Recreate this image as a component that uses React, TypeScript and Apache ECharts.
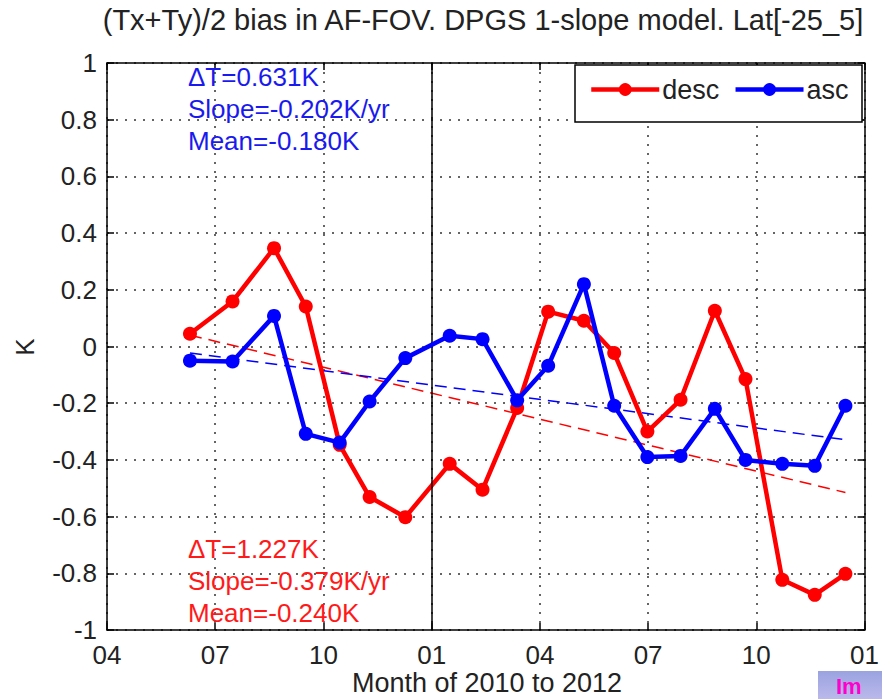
import React, { useEffect, useRef } from "react";
import * as echarts from "echarts";

const titleText = "(Tx+Ty)/2 bias in AF-FOV. DPGS 1-slope model. Lat[-25_5]";
const xTickLabels = ["04", "07", "10", "01", "04", "07", "10", "01"];
const yTicks = [-1, -0.8, -0.6, -0.4, -0.2, 0, 0.2, 0.4, 0.6, 0.8, 1];
const monthPos = [2.3, 3.48, 4.63, 5.51, 6.45, 7.28, 8.27, 9.5, 10.41, 11.37, 12.23, 13.22, 14.06, 14.98, 15.9, 16.85, 17.7, 18.72, 19.62, 20.47];
const descVals = [0.045, 0.159, 0.347, 0.141, -0.347, -0.531, -0.602, -0.414, -0.505, -0.217, 0.123, 0.091, -0.023, -0.3, -0.188, 0.126, -0.115, -0.823, -0.876, -0.802];
const ascVals = [-0.05, -0.053, 0.108, -0.308, -0.339, -0.194, -0.041, 0.038, 0.026, -0.19, -0.068, 0.22, -0.209, -0.39, -0.386, -0.22, -0.4, -0.414, -0.421, -0.209];
const descTrend = [[2.3, 0.04], [20.47, -0.515]];
const ascTrend = [[2.3, -0.023], [20.47, -0.329]];
const ascNotes = ["\u0394T=0.631K", "Slope=-0.202K/yr", "Mean=-0.180K"];
const descNotes = ["\u0394T=1.227K", "Slope=-0.379K/yr", "Mean=-0.240K"];

const FONT = "Liberation Sans, Arial, sans-serif";
const RED = "#ff0000";
const BLUE = "#0000ff";
const INK = "#222222";

export default function App() {
  const ref = useRef<HTMLDivElement>(null);
  useEffect(() => {
    document.body.style.margin = "0";
    const chart = echarts.init(ref.current!, null, { renderer: "svg" });
    const toPairs = (vals: number[]) => vals.map((v, i) => [monthPos[i], v]);
    const axisLine = { show: true, onZero: false, lineStyle: { color: "#000", width: 1.5 } };
    const tick = { show: true, inside: true, length: 7, lineStyle: { color: "#000", width: 1.5 } };
    const split = { show: true, lineStyle: { color: "#333", type: [2, 7] as any, width: 1.5 } };
    const option: any = {
      animation: false,
      backgroundColor: "#fff",
      grid: { left: 107, right: 16, top: 63, bottom: 69 },
      xAxis: [
        {
          type: "value", min: 0, max: 21, interval: 3, position: "bottom",
          axisLine, axisTick: tick, splitLine: split,
          axisLabel: {
            fontFamily: FONT, fontSize: 26, color: INK, margin: 12,
            formatter: (v: number) => xTickLabels[Math.round(v / 3)] ?? "",
          },
        },
        {
          type: "value", min: 0, max: 21, interval: 3, position: "top",
          axisLine, axisTick: tick, splitLine: { show: false }, axisLabel: { show: false },
        },
      ],
      yAxis: [
        {
          type: "value", min: -1, max: 1, interval: 0.2, position: "left",
          axisLine, axisTick: tick, splitLine: split,
          axisLabel: {
            fontFamily: FONT, fontSize: 26, color: INK, margin: 10,
            formatter: (v: number) => {
              const r = Math.round(v * 10) / 10;
              const t = yTicks.find((y) => Math.abs(y - r) < 1e-6);
              return t === undefined ? "" : String(t);
            },
          },
        },
        {
          type: "value", min: -1, max: 1, interval: 0.2, position: "right",
          axisLine, axisTick: tick, splitLine: { show: false }, axisLabel: { show: false },
        },
      ],
      legend: {
        data: ["desc", "asc"],
        left: 584, top: 71, z: 20,
        itemWidth: 68, itemHeight: 16, itemGap: 14,
        lineStyle: { width: 4.5 },
        textStyle: { fontFamily: FONT, fontSize: 27, color: INK, padding: [0, 0, 0, -2] },
      },
      series: [
        {
          name: "desc", type: "line", data: toPairs(descVals),
          symbol: "circle", symbolSize: 14,
          lineStyle: { color: RED, width: 4.5 }, itemStyle: { color: RED },
          z: 4,
          markLine: {
            silent: true, symbol: "none", label: { show: false },
            lineStyle: { color: "#000", type: "solid", width: 1.5 },
            data: [{ xAxis: 9 }],
          },
        },
        {
          name: "asc", type: "line", data: toPairs(ascVals),
          symbol: "circle", symbolSize: 14,
          lineStyle: { color: BLUE, width: 4.5 }, itemStyle: { color: BLUE },
          z: 5,
        },
        {
          name: "descTrend", type: "line", data: descTrend, symbol: "none",
          lineStyle: { color: RED, width: 1.5, type: [12, 7] }, z: 3,
        },
        {
          name: "ascTrend", type: "line", data: ascTrend, symbol: "none",
          lineStyle: { color: BLUE, width: 1.5, type: [12, 7] }, z: 3,
        },
      ],
      graphic: [
        {
          type: "text", x: 483, y: 20,
          style: { text: titleText, fontFamily: FONT, fontSize: 29, fill: INK, align: "center", verticalAlign: "middle" },
        },
        {
          type: "text", x: 25, y: 347, rotation: Math.PI / 2,
          style: { text: "K", fontFamily: FONT, fontSize: 26, fill: INK, align: "center", verticalAlign: "middle" },
        },
        {
          type: "text", x: 487, y: 683,
          style: { text: "Month of 2010 to 2012", fontFamily: FONT, fontSize: 27, fill: INK, align: "center", verticalAlign: "middle" },
        },
        ...ascNotes.map((t, i) => ({
          type: "text", x: 188, y: 77 + i * 32, z: 10,
          style: { text: t, fontFamily: FONT, fontSize: 26, fill: "#1a1aee", verticalAlign: "middle" },
        })),
        ...descNotes.map((t, i) => ({
          type: "text", x: 188, y: 549 + i * 32, z: 10,
          style: { text: t, fontFamily: FONT, fontSize: 26, fill: "#ff1a1a", verticalAlign: "middle" },
        })),
        {
          type: "rect", z: 10,
          shape: { x: 575, y: 65, width: 287, height: 57 },
          style: { fill: "#fff", stroke: "#000", lineWidth: 1.5 },
        },
        {
          type: "rect", z: 10,
          shape: { x: 818, y: 671, width: 70, height: 40 },
          style: {
            fill: new echarts.graphic.LinearGradient(0, 0, 0, 1, [
              { offset: 0, color: "#9aa3e0" },
              { offset: 1, color: "#c9c2f0" },
            ]),
          },
        },
        {
          type: "text", x: 836, y: 686, z: 11,
          style: { text: "Im", fontFamily: FONT, fontSize: 22, fontWeight: "bold", fill: "#ff00cc", verticalAlign: "middle" },
        },
      ],
    };
    chart.setOption(option);
    return () => chart.dispose();
  }, []);
  return <div ref={ref} style={{ width: 882, height: 699 }} />;
}
